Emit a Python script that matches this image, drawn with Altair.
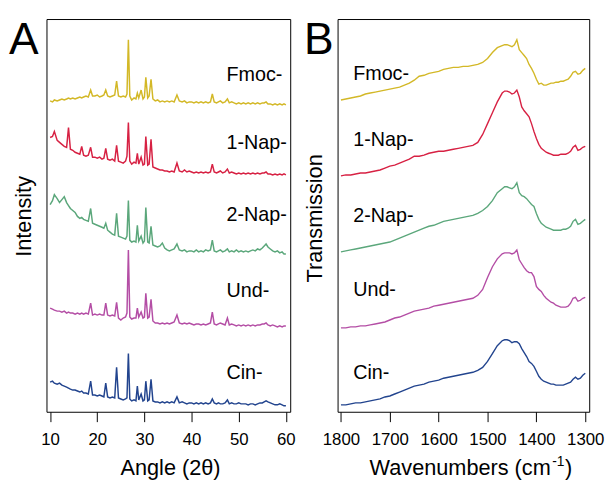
import altair as alt
import pandas as pd

SERIES = ["Fmoc-", "1-Nap-", "2-Nap-", "Und-", "Cin-"]
COLORS = ["#d3b827", "#d72143", "#5ba77b", "#b44ea5", "#22448e"]

# ---------------- Panel A : XRD (angle 2-theta) ----------------
ANGLE = [
    10.0, 10.5, 10.9, 11.5, 12.0, 12.5, 13.0, 13.5, 13.9, 14.3,
    14.8, 15.3, 15.8, 16.3, 16.7, 17.1, 17.6, 18.1, 18.6, 19.0,
    19.5, 20.0, 20.5, 21.0, 21.4, 21.8, 22.2, 22.7, 23.2, 23.7,
    24.1, 24.5, 25.0, 25.5, 26.0, 26.3, 26.6, 26.9, 27.3, 27.8,
    28.2, 28.5, 28.8, 29.3, 29.7, 30.0, 30.3, 30.7, 31.0, 31.4,
    31.8, 32.3, 32.8, 33.3, 33.8, 34.3, 34.8, 35.3, 35.8, 36.3,
    36.9, 37.4, 38.0, 38.5, 39.0, 39.5, 40.0, 40.5, 41.0, 41.5,
    42.0, 42.5, 43.0, 43.5, 44.0, 44.4, 44.8, 45.3, 45.7, 46.1,
    46.6, 47.1, 47.6, 48.0, 48.5, 49.0, 49.5, 50.0, 50.5, 51.0,
    51.5, 52.0, 52.5, 53.0, 53.5, 54.0, 54.5, 55.0, 55.4, 55.8,
    56.2, 56.7, 57.2, 57.7, 58.2, 58.7, 59.2, 59.6, 60.0,
]
XRD_FMOC = [
    315, 314, 316, 315, 316, 317, 316, 317, 318, 317,
    318, 317, 318, 319, 318, 319, 320, 319, 326, 320,
    320, 321, 319, 320, 321, 326, 320, 319, 320, 321,
    335, 320, 319, 320, 319, 322, 377, 320, 316, 318,
    317, 323, 318, 326, 317, 319, 339, 318, 320, 337,
    317, 315, 316, 314, 315, 314, 315, 314, 315, 314,
    321, 315, 314, 315, 313, 314, 314, 313, 314, 313,
    314, 313, 314, 313, 314, 322, 314, 313, 314, 315,
    313, 314, 317, 313, 314, 313, 312, 313, 312, 313,
    312, 313, 312, 313, 312, 313, 312, 313, 313, 314,
    312, 312, 311, 312, 311, 312, 311, 312, 311,
]
XRD_1NAP = [
    278, 279, 284, 275, 273, 271, 269, 268, 288, 266,
    265, 263, 262, 261, 269, 260, 259, 260, 268, 258,
    258, 257, 258, 256, 257, 267, 256, 255, 256, 254,
    270, 254, 253, 252, 254, 259, 293, 254, 251, 253,
    252, 262, 251, 258, 250, 251, 279, 250, 251, 276,
    248, 247, 246, 245, 245, 244, 244, 243, 244, 243,
    252, 244, 243, 245, 243, 244, 243, 242, 243, 242,
    243, 242, 243, 242, 243, 251, 243, 242, 243, 244,
    242, 243, 246, 242, 243, 242, 241, 242, 241, 242,
    241, 242, 241, 242, 241, 242, 241, 242, 242, 243,
    241, 241, 240, 241, 240, 241, 240, 241, 240,
]
XRD_2NAP = [
    210, 214, 220, 216, 212, 215, 218, 212, 209, 206,
    204, 202, 198, 196, 197, 195, 194, 193, 206, 191,
    190, 189, 188, 187, 186, 191, 184, 182, 180, 179,
    201, 178, 177, 176, 175, 178, 214, 174, 172, 173,
    172, 189, 173, 178, 171, 173, 207, 172, 171, 188,
    169, 168, 167, 168, 171, 166, 164, 163, 164, 165,
    170, 164, 163, 164, 162, 163, 163, 162, 164, 162,
    163, 162, 164, 163, 164, 174, 163, 162, 163, 164,
    162, 163, 165, 162, 163, 162, 164, 162, 163, 162,
    163, 162, 163, 164, 163, 165, 164, 166, 168, 170,
    167, 165, 163, 162, 163, 161, 162, 160, 160,
]
XRD_UND = [
    105, 104, 103, 102, 102, 101, 102, 100, 101, 100,
    100, 99, 100, 99, 100, 99, 100, 99, 110, 98,
    99, 98, 99, 98, 98, 110, 98, 97, 98, 97,
    111, 95, 93, 95, 96, 100, 164, 96, 94, 95,
    95, 105, 96, 101, 95, 96, 120, 95, 96, 114,
    92, 90, 90, 89, 90, 89, 90, 89, 90, 91,
    98, 90, 89, 90, 89, 90, 89, 88, 89, 89,
    88, 89, 88, 89, 90, 101, 89, 88, 89, 90,
    89, 88, 95, 88, 89, 88, 87, 88, 87, 88,
    87, 88, 87, 88, 87, 88, 88, 89, 89, 90,
    88, 87, 88, 87, 86, 87, 86, 87, 87,
]
XRD_CIN = [
    30, 31, 29, 28, 29, 27, 26, 25, 24, 23,
    22, 22, 21, 20, 21, 19, 19, 18, 31, 17,
    17, 16, 17, 16, 15, 29, 15, 14, 15, 14,
    45, 14, 13, 12, 13, 14, 59, 13, 11, 12,
    11, 26, 12, 18, 11, 12, 31, 11, 12, 33,
    11, 10, 10, 9, 10, 9, 10, 9, 10, 9,
    15, 9, 10, 9, 8, 9, 9, 8, 9, 8,
    9, 8, 9, 8, 9, 13, 9, 8, 9, 8,
    8, 9, 12, 8, 9, 8, 8, 9, 8, 8,
    8, 7, 8, 8, 7, 8, 9, 9, 10, 11,
    10, 9, 8, 7, 7, 8, 7, 6, 6,
]
XRD_TICKS = [10, 20, 30, 40, 50, 60]
XRD_LABEL_ANGLE = 47.4
XRD_LABEL_Y = [335.7, 266.3, 193.0, 116.3, 33.0]

# ---------------- Panel B : FTIR (wavenumber) ----------------
WAVENUMBER = [
    1800, 1790, 1780, 1770, 1760, 1750, 1740, 1730, 1720, 1710,
    1700, 1690, 1680, 1670, 1660, 1650, 1640, 1630, 1620, 1610,
    1600, 1590, 1580, 1570, 1560, 1550, 1540, 1530, 1520, 1510,
    1500, 1490, 1480, 1470,
    1465, 1460, 1455, 1450, 1445, 1440, 1435, 1430, 1425, 1420,
    1415, 1410, 1405, 1400, 1395, 1390, 1385, 1380, 1375, 1370,
    1365, 1360, 1355, 1350, 1345, 1340, 1335, 1330, 1325, 1320,
    1315, 1310, 1305, 1300,
]
FTIR_FMOC = [
    316, 317, 318, 319, 320, 322, 323, 324, 325, 326,
    327, 328, 329, 331, 333, 336, 340, 341, 343, 344,
    345, 347, 348, 349, 349, 350, 350, 351, 352, 354,
    358, 364, 369, 371,
    372, 372, 371, 370, 372, 377, 367, 364, 361, 358,
    352, 348, 343, 337, 332, 333, 331, 331, 332, 333,
    333, 334, 334, 335, 335, 336, 337, 340, 344, 345,
    342, 343, 346, 348,
]
FTIR_1NAP = [
    239, 240, 240, 241, 242, 242, 243, 244, 245, 247,
    249, 250, 252, 254, 256, 259, 259, 260, 262, 263,
    264, 264, 265, 266, 267, 268, 269, 270, 273, 281,
    292, 303, 314, 323,
    325, 325, 324, 322, 323, 326, 319, 309, 305, 302,
    299, 292, 284, 277, 271, 267, 265, 263, 262, 261,
    260, 260, 260, 261, 261, 261, 262, 264, 268, 270,
    265, 266, 268, 269,
]
FTIR_2NAP = [
    162, 163, 164, 165, 166, 167, 168, 169, 170, 171,
    172, 174, 176, 178, 180, 182, 184, 186, 188, 189,
    191, 193, 194, 195, 196, 197, 198, 199, 201, 204,
    208, 214, 222, 226,
    228, 228, 227, 226, 228, 232, 222, 219, 218, 216,
    213, 210, 208, 201, 195, 191, 189, 187, 186, 185,
    184, 184, 184, 184, 185, 185, 186, 188, 193, 195,
    190, 191, 193, 195,
]
FTIR_UND = [
    85, 85, 86, 86, 87, 87, 88, 89, 90, 91,
    93, 95, 96, 98, 100, 102, 103, 104, 105, 107,
    108, 109, 110, 111, 112, 113, 114, 115, 118, 124,
    136, 147, 155, 160,
    161, 161, 161, 160, 161, 164, 154, 150, 146, 143,
    141, 141, 137, 127, 124, 122, 118, 115, 113, 111,
    110, 108, 107, 106, 106, 106, 107, 110, 115, 116,
    112, 113, 115, 116,
]
FTIR_CIN = [
    7, 7, 8, 9, 9, 10, 11, 12, 13, 15,
    16, 18, 20, 22, 24, 26, 27, 28, 30, 31,
    32, 34, 35, 36, 37, 38, 39, 40, 42, 45,
    51, 59, 67, 72,
    73, 73, 72, 70, 71, 71, 69, 64, 60, 56,
    51, 49, 46, 41, 36, 33, 31, 30, 29, 28,
    28, 27, 27, 27, 27, 28, 29, 30, 33, 35,
    33, 34, 37, 39,
]
FTIR_TICKS = [1800, 1700, 1600, 1500, 1400, 1300]
FTIR_LABEL_WN = 1775
FTIR_LABEL_Y = [336.3, 269.7, 192.3, 117.0, 33.7]

FONT = "Liberation Sans"
W_A, W_B, H = 247, 255, 398

# ---------- tables ----------
xrd_series = [XRD_FMOC, XRD_1NAP, XRD_2NAP, XRD_UND, XRD_CIN]
ftir_series = [FTIR_FMOC, FTIR_1NAP, FTIR_2NAP, FTIR_UND, FTIR_CIN]
xrd = pd.DataFrame([
    {"series": s, "angle": a, "value": v}
    for s, vals in zip(SERIES, xrd_series) for a, v in zip(ANGLE, vals)
])
ftir = pd.DataFrame([
    {"series": s, "wn": w, "value": v}
    for s, vals in zip(SERIES, ftir_series) for w, v in zip(WAVENUMBER, vals)
])
xrd_lab = pd.DataFrame({"series": SERIES, "angle": [XRD_LABEL_ANGLE] * 5, "value": XRD_LABEL_Y})
ftir_lab = pd.DataFrame({"series": SERIES, "wn": [FTIR_LABEL_WN] * 5, "value": FTIR_LABEL_Y})

color = alt.Color("series:N", scale=alt.Scale(domain=SERIES, range=COLORS), legend=None)
yscale = alt.Scale(domain=[0, 398], nice=False, zero=False)


def xaxis(values):
    return alt.Axis(values=values, format="d", title=None, grid=False, domain=False,
                    ticks=True, tickSize=10, tickColor="black", tickWidth=1,
                    labelPadding=10, labelFontSize=17, labelFont=FONT, labelColor="black",
                    labelFlush=False)


def text_layer(txt, x, y, size, align="left", angle=0):
    return alt.Chart(pd.DataFrame({"t": [txt]})).mark_text(
        align=align, baseline="alphabetic", fontSize=size, font=FONT, color="black", angle=angle
    ).encode(x=alt.value(x), y=alt.value(y), text="t:N")


# ---------- panel A ----------
xsA = alt.Scale(domain=[9.23, 60.92], nice=False, zero=False)
linesA = alt.Chart(xrd).mark_line(strokeWidth=1.5).encode(
    x=alt.X("angle:Q", scale=xsA, axis=xaxis(XRD_TICKS)),
    y=alt.Y("value:Q", scale=yscale, axis=None), color=color, detail="series:N"
)
labA = alt.Chart(xrd_lab).mark_text(align="left", baseline="alphabetic", fontSize=20,
                                    font=FONT, color="black").encode(
    x=alt.X("angle:Q", scale=xsA), y=alt.Y("value:Q", scale=yscale), text="series:N"
)
panelA = alt.layer(
    linesA, labA,
    text_layer("A", -38, 35, 45),
    text_layer("Intensity", -16, 200, 22, align="center", angle=270),
    text_layer("Angle (2θ)", 125.7, 462.5, 22, align="center"),
).properties(width=W_A, height=H)

# ---------- panel B ----------
xsB = alt.Scale(domain=[1291.9, 1806.9], nice=False, zero=False, reverse=True)
linesB = alt.Chart(ftir).mark_line(strokeWidth=1.4).encode(
    x=alt.X("wn:Q", scale=xsB, axis=xaxis(FTIR_TICKS)),
    y=alt.Y("value:Q", scale=yscale, axis=None), color=color, detail="series:N"
)
labB = alt.Chart(ftir_lab).mark_text(align="left", baseline="alphabetic", fontSize=20,
                                     font=FONT, color="black").encode(
    x=alt.X("wn:Q", scale=xsB), y=alt.Y("value:Q", scale=yscale), text="series:N"
)
panelB = alt.layer(
    linesB, labB,
    text_layer("B", -34, 35, 45),
    text_layer("Transmission", -16, 202, 22, align="center", angle=270),
    text_layer("Wavenumbers (cm", 216, 462.5, 22, align="right"),
    text_layer("-1", 217.5, 453.3, 14),
    text_layer(")", 230.5, 462.5, 22),
).properties(width=W_B, height=H)

chart = alt.hconcat(panelA, panelB, spacing=48, bounds="flush").configure_view(
    stroke="black", strokeWidth=1
).properties(padding={"left": 0, "top": 6, "right": 0, "bottom": 0}, background="white")

chart.save("out.html", embed_options={"renderer": "svg", "actions": False})
